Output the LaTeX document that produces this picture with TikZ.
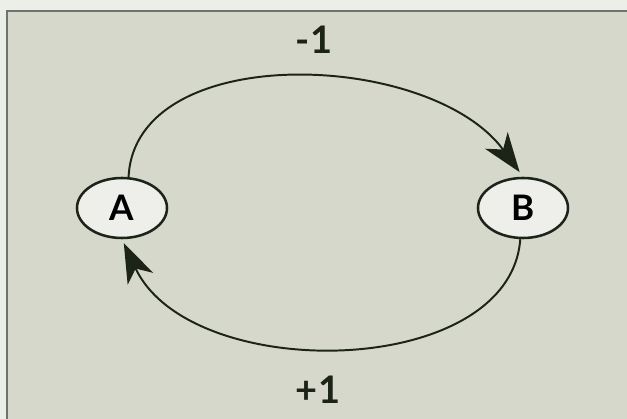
\documentclass[tikz,border=0pt]{standalone}
\usepackage{fontspec}
\setmainfont{Lato}
\usetikzlibrary{arrows.meta,shapes.geometric}
\definecolor{paper}{RGB}{236,238,232}
\definecolor{panel}{RGB}{215,216,204}
\definecolor{frameline}{RGB}{110,116,108}
\definecolor{statefill}{RGB}{238,238,234}
\definecolor{stateline}{RGB}{28,36,24}

\begin{document}
\begin{tikzpicture}[x=0.025cm,y=-0.025cm,
  state/.style={draw=stateline,ellipse,line width=1.8pt,fill=statefill,
                minimum width=2.25cm,minimum height=1.5cm,inner sep=0pt,
                font=\bfseries\fontsize{25}{25}\selectfont},
  arr/.style={-{Stealth[length=28pt,width=20pt,inset=8pt]},line width=1.4pt,
              draw=stateline},
  lbl/.style={font=\bfseries\fontsize{27}{27}\selectfont,text=stateline}]
  % panel
  \useasboundingbox (0,0) rectangle (627,419);
  \fill[paper] (0,0) rectangle (627,419);
  \filldraw[fill=panel,draw=frameline,line width=1.5pt] (7,11) rectangle (640,430);
  % the two states
  \node[state] (A) at (122,208) {A};
  \node[state] (B) at (523,208) {B};
  % transitions
  \draw[arr,shorten >=4pt] (A.78) .. controls (135,40) and (430,50) .. (B.north);
  \draw[arr,shorten >=3pt] (B.265) .. controls (510,380) and (190,385) .. (A.south);
  \node[lbl] (minus) at (314,40) {-1};
  \node[lbl] (plus) at (318,390) {+1};
\end{tikzpicture}
\end{document}
